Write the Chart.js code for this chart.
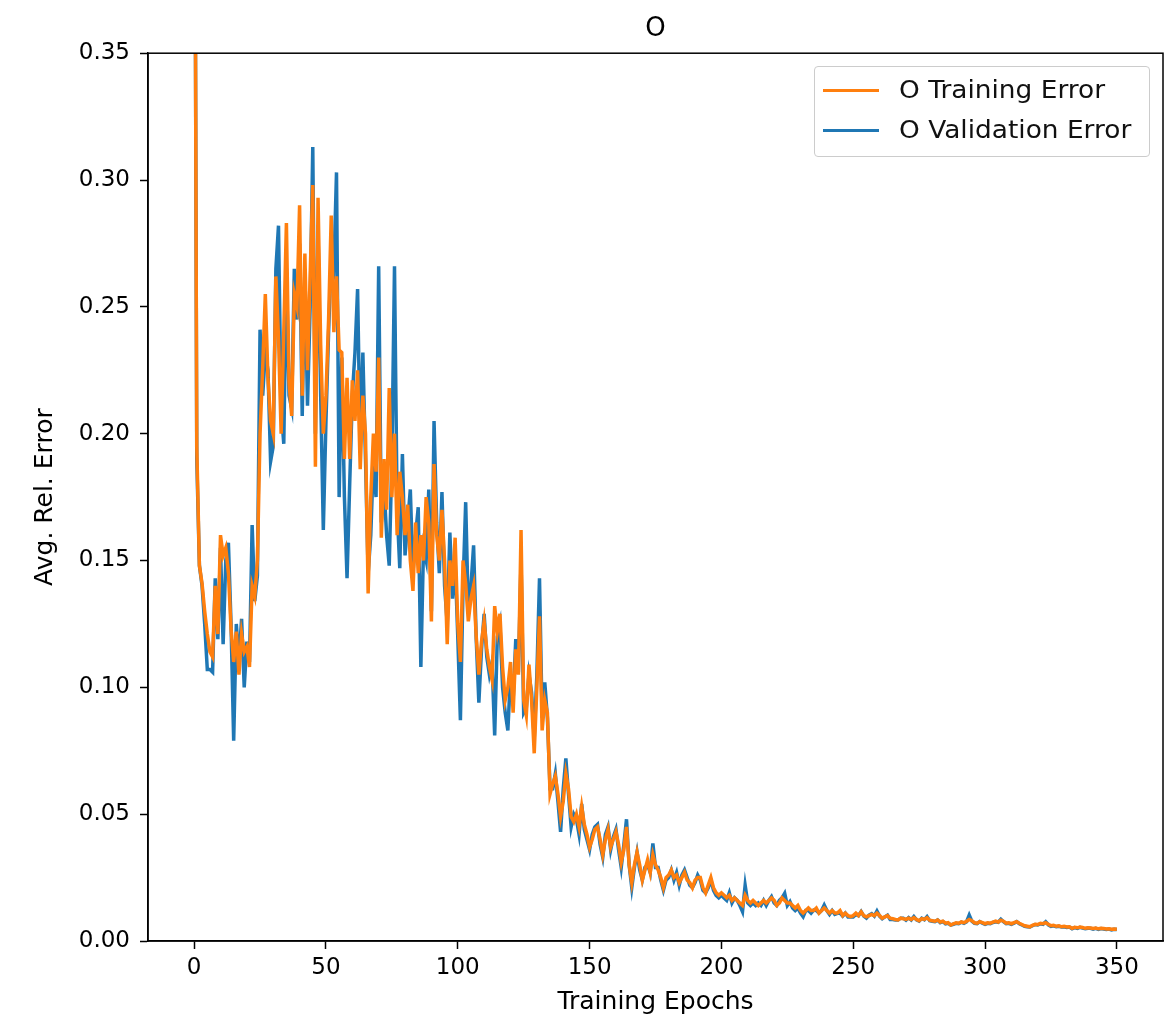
<!DOCTYPE html>
<html>
<head>
<meta charset="utf-8">
<script src="https://cdn.jsdelivr.net/npm/chart.js@4"></script>
<style>
  body { margin: 0; background: #fff; }
  #wrap { position: relative; width: 1165px; height: 1025px; }
  #legend {
    position: absolute; left: 814px; top: 66px; width: 334px; height: 89px;
    border: 1px solid #cccccc; border-radius: 4px; background: rgba(255,255,255,0.8);
    font-family: "DejaVu Sans", sans-serif; font-size: 24px; color: #111;
  }
  .row { position: absolute; left: 0; height: 30px; line-height: 30px; }
  .swatch { position: absolute; left: 8px; top: 14px; width: 56px; height: 3px; }
  .lbl { position: absolute; left: 84px; top: 0; white-space: nowrap; transform: scaleX(1.1); transform-origin: left center; }
</style>
</head>
<body>
<div id="wrap">
  <canvas id="chart" width="1165" height="1025"></canvas>
  <div id="legend">
    <div class="row" style="top:8px"><span class="swatch" style="background:#ff7f0e"></span><span class="lbl">O Training Error</span></div>
    <div class="row" style="top:48px"><span class="swatch" style="background:#1f77b4"></span><span class="lbl">O Validation Error</span></div>
  </div>
</div>
<script>
const xTickValues = [0, 50, 100, 150, 200, 250, 300, 350];
const yTickValues = [0, 0.05, 0.10, 0.15, 0.20, 0.25, 0.30, 0.35];

const trainingError = [
  0.52, 0.195, 0.148, 0.141, 0.130, 0.121, 0.114, 0.112, 0.140, 0.121,
  0.160, 0.152, 0.155, 0.145, 0.123, 0.110, 0.122, 0.105, 0.121, 0.114,
  0.116, 0.108, 0.140, 0.136, 0.150, 0.200, 0.226, 0.255, 0.222, 0.205,
  0.200, 0.262, 0.238, 0.200, 0.240, 0.283, 0.220, 0.207, 0.255, 0.250,
  0.290, 0.215, 0.271, 0.225, 0.262, 0.298, 0.187, 0.293, 0.235, 0.200,
  0.215, 0.245, 0.286, 0.240, 0.262, 0.233, 0.232, 0.190, 0.222, 0.190,
  0.221, 0.205, 0.225, 0.186, 0.215, 0.200, 0.137, 0.175, 0.200, 0.185,
  0.230, 0.159, 0.190, 0.170, 0.218, 0.175, 0.200, 0.160, 0.185, 0.175,
  0.160, 0.172, 0.150, 0.138, 0.165, 0.145, 0.160, 0.150, 0.175, 0.165,
  0.126, 0.188, 0.160, 0.150, 0.170, 0.150, 0.117, 0.150, 0.140, 0.159,
  0.125, 0.110, 0.150, 0.141, 0.126, 0.135, 0.140, 0.120, 0.105, 0.118,
  0.126, 0.115, 0.108, 0.103, 0.132, 0.122, 0.129, 0.108, 0.095, 0.100,
  0.110, 0.090, 0.115, 0.105, 0.162, 0.095, 0.089, 0.109, 0.095, 0.074,
  0.100, 0.128, 0.083, 0.095, 0.090, 0.058, 0.062, 0.065, 0.058, 0.049,
  0.055, 0.066, 0.060, 0.049, 0.047, 0.050, 0.045, 0.053, 0.046, 0.042,
  0.037, 0.040, 0.044, 0.045, 0.040, 0.034, 0.040, 0.044, 0.037, 0.040,
  0.043, 0.038, 0.031, 0.036, 0.045, 0.030, 0.023, 0.030, 0.035, 0.030,
  0.024, 0.028, 0.032, 0.027, 0.034, 0.030, 0.028, 0.025, 0.021, 0.025,
  0.026, 0.028, 0.025, 0.026, 0.023, 0.025, 0.027, 0.024, 0.023, 0.021,
  0.024, 0.025, 0.025, 0.021, 0.019, 0.022, 0.025, 0.021, 0.019, 0.018,
  0.019, 0.018, 0.017, 0.018, 0.016, 0.017, 0.016, 0.015, 0.014, 0.018,
  0.016, 0.015, 0.016, 0.015, 0.014, 0.015, 0.016, 0.015, 0.016, 0.017,
  0.016, 0.014, 0.015, 0.017, 0.016, 0.015, 0.015, 0.014, 0.013, 0.014,
  0.012, 0.011, 0.012, 0.013, 0.012, 0.012, 0.013, 0.011, 0.012, 0.013,
  0.012, 0.011, 0.012, 0.011, 0.011, 0.012, 0.010, 0.011, 0.010, 0.0096,
  0.010, 0.011, 0.010, 0.0115, 0.010, 0.0095, 0.010, 0.0105, 0.010, 0.011,
  0.010, 0.009, 0.0095, 0.010, 0.009, 0.0088, 0.0085, 0.0083, 0.009, 0.0088,
  0.0085, 0.009, 0.0085, 0.0092, 0.0085, 0.008, 0.0088, 0.0085, 0.0092, 0.0082,
  0.008, 0.0078, 0.0083, 0.0075, 0.0078, 0.007, 0.0072, 0.0063, 0.0068, 0.0072,
  0.007, 0.0075, 0.0072, 0.0078, 0.0085, 0.008, 0.0072, 0.007, 0.0076, 0.0072,
  0.0068, 0.0072, 0.007, 0.0074, 0.0078, 0.0075, 0.0082, 0.0078, 0.007, 0.0072,
  0.0068, 0.0072, 0.0076, 0.007, 0.0065, 0.006, 0.0058, 0.0056, 0.0062, 0.0066,
  0.0065, 0.007, 0.0068, 0.0072, 0.0066, 0.006, 0.0062, 0.0058, 0.006, 0.0056,
  0.0058, 0.0055, 0.0056, 0.005, 0.0054, 0.0052, 0.0055, 0.0053, 0.005, 0.0052,
  0.0051, 0.0049, 0.0051, 0.0048, 0.005, 0.0049, 0.0047, 0.0048, 0.0046, 0.0047, 0.0046
];

const validationError = [
  0.52, 0.190, 0.148, 0.140, 0.125, 0.107, 0.107, 0.106, 0.143, 0.119,
  0.155, 0.117, 0.150, 0.157, 0.125, 0.079, 0.125, 0.110, 0.127, 0.100,
  0.118, 0.110, 0.164, 0.134, 0.144, 0.241, 0.215, 0.232, 0.225, 0.189,
  0.195, 0.265, 0.282, 0.210, 0.196, 0.265, 0.215, 0.210, 0.265, 0.245,
  0.275, 0.207, 0.265, 0.211, 0.250, 0.313, 0.200, 0.280, 0.215, 0.162,
  0.205, 0.240, 0.270, 0.265, 0.303, 0.175, 0.230, 0.175, 0.143, 0.180,
  0.215, 0.232, 0.257, 0.195, 0.232, 0.190, 0.145, 0.160, 0.190, 0.175,
  0.266, 0.165, 0.180, 0.160, 0.148, 0.190, 0.266, 0.170, 0.147, 0.192,
  0.152, 0.165, 0.178, 0.145, 0.160, 0.171, 0.108, 0.155, 0.150, 0.178,
  0.130, 0.205, 0.165, 0.145, 0.177, 0.140, 0.125, 0.161, 0.135, 0.150,
  0.120, 0.087, 0.140, 0.173, 0.130, 0.140, 0.156, 0.119, 0.094, 0.115,
  0.129, 0.112, 0.105, 0.110, 0.081, 0.120, 0.125, 0.100, 0.090, 0.083,
  0.105, 0.095, 0.119, 0.106, 0.150, 0.090, 0.092, 0.105, 0.098, 0.080,
  0.105, 0.143, 0.088, 0.102, 0.088, 0.060, 0.060, 0.066, 0.055, 0.043,
  0.060, 0.072, 0.058, 0.045, 0.050, 0.048, 0.042, 0.054, 0.044, 0.040,
  0.036, 0.042, 0.045, 0.046, 0.038, 0.033, 0.042, 0.045, 0.036, 0.041,
  0.044, 0.036, 0.029, 0.038, 0.048, 0.030, 0.021, 0.029, 0.035, 0.028,
  0.024, 0.029, 0.030, 0.027, 0.0385, 0.029, 0.029, 0.024, 0.020, 0.024,
  0.025, 0.028, 0.024, 0.027, 0.022, 0.026, 0.028, 0.025, 0.022, 0.021,
  0.023, 0.026, 0.024, 0.020, 0.019, 0.021, 0.024, 0.020, 0.018, 0.017,
  0.018, 0.017, 0.016, 0.019, 0.015, 0.017, 0.016, 0.014, 0.0116, 0.022,
  0.015, 0.014, 0.015, 0.014, 0.015, 0.014, 0.016, 0.014, 0.016, 0.0175,
  0.015, 0.014, 0.016, 0.017, 0.0188, 0.014, 0.0155, 0.013, 0.012, 0.013,
  0.011, 0.0096, 0.012, 0.012, 0.011, 0.0122, 0.012, 0.011, 0.012, 0.0142,
  0.012, 0.0105, 0.012, 0.0105, 0.0109, 0.011, 0.0098, 0.011, 0.0095, 0.0096,
  0.0095, 0.0105, 0.010, 0.0116, 0.0098, 0.009, 0.0102, 0.0108, 0.0098, 0.0118,
  0.0098, 0.0088, 0.0095, 0.0102, 0.0085, 0.0085, 0.0083, 0.0083, 0.009, 0.009,
  0.0082, 0.0092, 0.0083, 0.0096, 0.0083, 0.0078, 0.009, 0.0084, 0.0096, 0.008,
  0.0078, 0.0076, 0.0083, 0.0072, 0.0077, 0.0068, 0.007, 0.0063, 0.0066, 0.007,
  0.0068, 0.0074, 0.007, 0.0076, 0.0102, 0.0078, 0.007, 0.0068, 0.0076, 0.007,
  0.0066, 0.007, 0.0068, 0.0073, 0.0076, 0.0074, 0.0086, 0.0076, 0.0068, 0.007,
  0.0066, 0.007, 0.0076, 0.0068, 0.0063, 0.0058, 0.0056, 0.0055, 0.006, 0.0065,
  0.0063, 0.0068, 0.0066, 0.0076, 0.0064, 0.0058, 0.006, 0.0056, 0.0058, 0.0055,
  0.0056, 0.0053, 0.0055, 0.0048, 0.0053, 0.005, 0.0054, 0.0051, 0.0048, 0.005,
  0.005, 0.0047, 0.005, 0.0046, 0.0049, 0.0047, 0.0045, 0.0047, 0.0044, 0.0046, 0.0045
];

// epoch index for every value
const epochs = trainingError.map((_, i) => i);

const FONT = 'DejaVu Sans';

// matplotlib style box round the axes
const frame = {
  id: 'frame',
  afterDraw(chart) {
    const { ctx, chartArea: a } = chart;
    ctx.save();
    ctx.strokeStyle = '#000';
    ctx.lineWidth = 1.5;
    ctx.strokeRect(a.left, a.top, a.right - a.left, a.bottom - a.top);
    ctx.restore();
  }
};

new Chart(document.getElementById('chart'), {
  type: 'line',
  data: {
    datasets: [
      {
        label: 'O Training Error',
        data: epochs.map(e => ({ x: e, y: trainingError[e] })),
        borderColor: '#ff7f0e',
        borderWidth: 3.5,
        pointRadius: 0,
        tension: 0
      },
      {
        label: 'O Validation Error',
        data: epochs.map(e => ({ x: e, y: validationError[e] })),
        borderColor: '#1f77b4',
        borderWidth: 3.5,
        pointRadius: 0,
        tension: 0
      }
    ]
  },
  options: {
    responsive: false,
    animation: false,
    layout: { padding: { left: 0, right: 2, top: 0, bottom: 0 } },
    plugins: {
      legend: { display: false },
      tooltip: { enabled: false },
      title: {
        display: true,
        fullSize: false,
        text: 'O',
        color: '#000',
        font: { family: FONT, size: 26, weight: 'normal' },
        padding: { top: 14, bottom: 8 }
      }
    },
    scales: {
      x: {
        type: 'linear',
        min: -17.5,
        max: 367.5,
        afterBuildTicks: s => { s.ticks = xTickValues.map(v => ({ value: v })); },
        afterFit: s => { s.height = 84; },
        grid: { drawOnChartArea: false, tickLength: 8, tickColor: '#000', tickWidth: 1.5 },
        border: { color: '#000', width: 1.5 },
        ticks: { color: '#000', font: { family: FONT, size: 23 }, padding: 5, maxRotation: 0 },
        title: { display: true, text: 'Training Epochs', color: '#000', font: { family: FONT, size: 25 }, padding: { top: 2, bottom: 8 } }
      },
      y: {
        min: 0,
        max: 0.35,
        afterBuildTicks: s => { s.ticks = yTickValues.map(v => ({ value: v })); },
        afterFit: s => { s.width = 148; },
        grid: { drawOnChartArea: false, tickLength: 8, tickColor: '#000', tickWidth: 1.5 },
        border: { color: '#000', width: 1.5 },
        ticks: { color: '#000', font: { family: FONT, size: 23 }, padding: 10, callback: v => v.toFixed(2) },
        title: { display: true, text: 'Avg. Rel. Error', color: '#000', font: { family: FONT, size: 25 }, padding: { top: 30, bottom: 4 } }
      }
    }
  },
  plugins: [frame]
});
</script>
</body>
</html>
